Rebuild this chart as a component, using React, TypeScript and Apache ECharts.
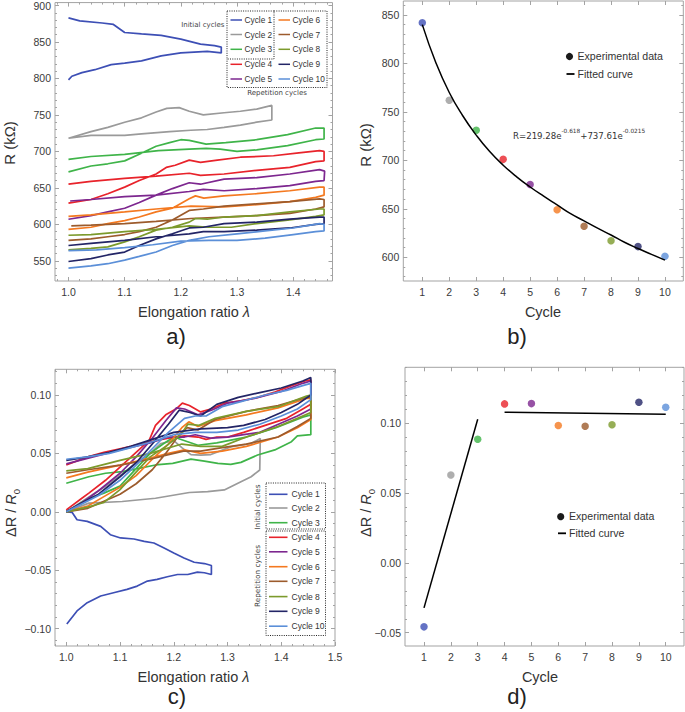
import React, { useEffect, useRef } from "react";
import * as echarts from "echarts";

// ---------- data ----------
const CYCLE_NAMES = ["Cycle 1", "Cycle 2", "Cycle 3", "Cycle 4", "Cycle 5", "Cycle 6", "Cycle 7", "Cycle 8", "Cycle 9", "Cycle 10"];
const CYCLE_COLORS = ["#3d4fb5", "#9a9a9a", "#3fb449", "#e8232b", "#7d278f", "#f47920", "#9c5b2c", "#7c9a2c", "#232566", "#5b8fd8"];
const CYCLES = [1, 2, 3, 4, 5, 6, 7, 8, 9, 10];

// Panel a) resistance loops [elongation ratio, R (kOhm)]
const A_CYCLE1 = [[1.0, 883], [1.02, 879], [1.06, 876], [1.08, 874], [1.1, 863], [1.13, 861], [1.165, 859], [1.2, 854], [1.235, 847], [1.26, 845], [1.272, 843], [1.272, 835], [1.247, 837], [1.2, 835], [1.165, 831], [1.13, 824], [1.1, 821], [1.076, 819], [1.047, 812], [1.024, 808], [1.006, 803], [1.0, 798]];
const A_CYCLE2 = [[1.0, 718], [1.04, 727], [1.07, 733], [1.1, 740], [1.13, 746], [1.156, 754], [1.175, 759], [1.197, 760], [1.215, 755], [1.24, 750], [1.277, 753], [1.306, 755], [1.335, 758], [1.362, 763], [1.362, 743], [1.335, 740], [1.306, 736], [1.277, 733], [1.247, 730], [1.218, 729], [1.18, 727], [1.13, 724], [1.1, 722], [1.04, 722], [1.0, 718]];
const A_CYCLE3 = [[1.0, 672], [1.04, 680], [1.07, 683], [1.1, 687], [1.126, 696], [1.156, 707], [1.18, 712], [1.2, 716], [1.215, 715], [1.245, 710], [1.28, 712], [1.335, 716], [1.39, 723], [1.44, 732], [1.455, 732], [1.455, 717], [1.44, 716], [1.39, 708], [1.335, 702], [1.3, 700], [1.27, 703], [1.245, 704], [1.215, 703], [1.16, 701], [1.1, 696], [1.04, 693], [1.0, 689]];
const A_CYCLE4 = [[1.0, 629], [1.04, 634], [1.07, 642], [1.1, 651], [1.126, 660], [1.156, 669], [1.174, 678], [1.19, 681], [1.215, 688], [1.235, 685], [1.265, 688], [1.306, 692], [1.365, 694], [1.41, 698], [1.447, 701], [1.455, 700], [1.455, 687], [1.44, 686], [1.394, 678], [1.335, 674], [1.277, 669], [1.235, 667], [1.215, 670], [1.156, 666], [1.1, 663], [1.04, 659], [1.0, 655]];
const A_CYCLE5 = [[1.0, 607], [1.04, 612], [1.07, 617], [1.1, 622], [1.126, 630], [1.156, 640], [1.185, 649], [1.215, 657], [1.235, 655], [1.277, 662], [1.335, 664], [1.394, 669], [1.447, 675], [1.456, 673], [1.455, 660], [1.44, 659], [1.394, 653], [1.335, 649], [1.277, 646], [1.24, 648], [1.215, 645], [1.156, 640], [1.1, 638], [1.04, 634], [1.003, 632]];
const A_CYCLE6 = [[1.0, 593], [1.04, 596], [1.07, 601], [1.1, 605], [1.126, 610], [1.156, 617], [1.185, 622], [1.215, 635], [1.226, 639], [1.241, 636], [1.277, 639], [1.335, 642], [1.394, 646], [1.447, 651], [1.455, 651], [1.455, 640], [1.44, 637], [1.394, 631], [1.335, 627], [1.277, 624], [1.218, 625], [1.156, 621], [1.1, 617], [1.04, 613], [1.0, 611]];
const A_CYCLE7 = [[1.0, 578], [1.04, 580], [1.07, 583], [1.1, 586], [1.126, 590], [1.156, 596], [1.185, 606], [1.215, 619], [1.24, 621], [1.277, 625], [1.335, 628], [1.394, 631], [1.447, 635], [1.455, 634], [1.455, 624], [1.44, 621], [1.394, 615], [1.335, 612], [1.277, 610], [1.218, 608], [1.156, 604], [1.1, 601], [1.04, 599], [1.005, 598]];
const A_CYCLE8 = [[1.0, 565], [1.04, 567], [1.07, 569], [1.1, 576], [1.126, 583], [1.156, 592], [1.185, 596], [1.215, 603], [1.226, 608], [1.247, 607], [1.277, 610], [1.335, 612], [1.394, 617], [1.447, 621], [1.455, 621], [1.455, 613], [1.44, 611], [1.394, 606], [1.335, 601], [1.29, 596], [1.25, 596], [1.215, 598], [1.156, 593], [1.1, 590], [1.04, 586], [1.0, 585]];
const A_CYCLE9 = [[1.0, 549], [1.04, 553], [1.07, 558], [1.1, 562], [1.126, 571], [1.156, 580], [1.185, 587], [1.215, 595], [1.24, 596], [1.277, 601], [1.335, 603], [1.394, 607], [1.447, 610], [1.455, 610], [1.455, 601], [1.44, 600], [1.394, 595], [1.335, 592], [1.277, 590], [1.24, 590], [1.215, 587], [1.156, 583], [1.1, 578], [1.04, 574], [1.0, 571]];
const A_CYCLE10 = [[1.0, 540], [1.04, 543], [1.07, 546], [1.1, 551], [1.126, 556], [1.156, 562], [1.185, 571], [1.215, 578], [1.25, 583], [1.3, 587], [1.35, 591], [1.4, 595], [1.447, 601], [1.455, 600], [1.455, 591], [1.44, 590], [1.4, 586], [1.35, 581], [1.3, 578], [1.25, 578], [1.2, 577], [1.15, 572], [1.1, 568], [1.05, 565], [1.0, 564]];

// Panel c) relative change loops [elongation ratio, dR/R0]
const C_CYCLE1 = [[1.0, 0], [1.011, -0.0006], [1.02, -0.0068], [1.039, -0.0082], [1.064, -0.0125], [1.082, -0.0196], [1.101, -0.0224], [1.126, -0.0233], [1.145, -0.0253], [1.163, -0.0267], [1.182, -0.031], [1.2, -0.0352], [1.219, -0.0395], [1.238, -0.0432], [1.257, -0.0443], [1.27, -0.046], [1.27, -0.0537], [1.257, -0.0522], [1.244, -0.0517], [1.226, -0.0537], [1.207, -0.0537], [1.188, -0.0556], [1.169, -0.0579], [1.151, -0.0593], [1.132, -0.0636], [1.113, -0.0664], [1.088, -0.0693], [1.064, -0.0721], [1.039, -0.0778], [1.02, -0.0849], [1.001, -0.096]];
const C_CYCLE2 = [[1.0, 0], [1.042, 0.0074], [1.104, 0.0088], [1.166, 0.0116], [1.229, 0.0165], [1.263, 0.0173], [1.294, 0.0187], [1.325, 0.0258], [1.344, 0.03], [1.36, 0.0358], [1.361, 0.0628], [1.344, 0.0585], [1.306, 0.0556], [1.269, 0.049], [1.25, 0.0485], [1.232, 0.049], [1.215, 0.055], [1.2, 0.061], [1.176, 0.0585], [1.156, 0.05], [1.13, 0.042], [1.1, 0.031], [1.07, 0.021], [1.04, 0.012], [1.0, 0]];
const C_CYCLE3 = [[1.0, 0], [1.04, 0.011], [1.07, 0.016], [1.1, 0.022], [1.126, 0.035], [1.156, 0.05], [1.18, 0.058], [1.2, 0.064], [1.245, 0.057], [1.28, 0.059], [1.335, 0.064], [1.39, 0.072], [1.44, 0.081], [1.455, 0.083], [1.455, 0.066], [1.43, 0.065], [1.419, 0.06], [1.388, 0.053], [1.356, 0.0486], [1.325, 0.0423], [1.306, 0.0406], [1.282, 0.0415], [1.257, 0.0434], [1.232, 0.0451], [1.198, 0.0415], [1.166, 0.0401], [1.135, 0.0372], [1.104, 0.0344], [1.073, 0.033], [1.042, 0.03], [1.0, 0.0244]];
const C_CYCLE4 = [[1.0, 0.0017], [1.029, 0.0116], [1.042, 0.016], [1.073, 0.027], [1.104, 0.04], [1.135, 0.053], [1.154, 0.061], [1.166, 0.074], [1.185, 0.083], [1.204, 0.088], [1.216, 0.093], [1.229, 0.091], [1.25, 0.0855], [1.269, 0.088], [1.294, 0.093], [1.325, 0.095], [1.356, 0.098], [1.388, 0.1025], [1.419, 0.108], [1.444, 0.112], [1.455, 0.113], [1.455, 0.092], [1.44, 0.088], [1.41, 0.08], [1.37, 0.074], [1.33, 0.068], [1.3, 0.064], [1.28, 0.064], [1.26, 0.062], [1.245, 0.064], [1.22, 0.065], [1.19, 0.063], [1.156, 0.06], [1.12, 0.056], [1.1, 0.054], [1.07, 0.051], [1.04, 0.047], [1.0, 0.04]];
const C_CYCLE5 = [[1.0, 0], [1.03, 0.008], [1.06, 0.018], [1.1, 0.033], [1.13, 0.047], [1.16, 0.063], [1.185, 0.078], [1.205, 0.089], [1.22, 0.088], [1.245, 0.083], [1.27, 0.087], [1.3, 0.093], [1.35, 0.097], [1.4, 0.103], [1.44, 0.11], [1.455, 0.112], [1.455, 0.088], [1.43, 0.082], [1.4, 0.076], [1.36, 0.068], [1.33, 0.066], [1.3, 0.064], [1.27, 0.063], [1.24, 0.066], [1.22, 0.064], [1.19, 0.064], [1.156, 0.059], [1.1, 0.053], [1.05, 0.047], [1.0, 0.041]];
const C_CYCLE6 = [[1.0, 0], [1.04, 0.005], [1.07, 0.013], [1.1, 0.021], [1.13, 0.031], [1.16, 0.045], [1.19, 0.058], [1.215, 0.072], [1.228, 0.077], [1.245, 0.073], [1.277, 0.078], [1.335, 0.083], [1.394, 0.089], [1.447, 0.097], [1.455, 0.097], [1.455, 0.079], [1.43, 0.072], [1.394, 0.064], [1.335, 0.056], [1.29, 0.052], [1.25, 0.05], [1.22, 0.053], [1.19, 0.05], [1.156, 0.046], [1.1, 0.04], [1.04, 0.034], [1.0, 0.029]];
const C_CYCLE7 = [[1.0, 0], [1.04, 0.003], [1.07, 0.009], [1.1, 0.015], [1.13, 0.024], [1.16, 0.036], [1.185, 0.05], [1.21, 0.066], [1.225, 0.072], [1.245, 0.07], [1.277, 0.079], [1.335, 0.086], [1.394, 0.091], [1.447, 0.098], [1.455, 0.098], [1.455, 0.08], [1.43, 0.073], [1.394, 0.064], [1.335, 0.058], [1.29, 0.055], [1.25, 0.052], [1.218, 0.052], [1.19, 0.049], [1.156, 0.045], [1.1, 0.04], [1.04, 0.036], [1.0, 0.033]];
const C_CYCLE8 = [[1.0, 0], [1.04, 0.004], [1.07, 0.008], [1.1, 0.019], [1.126, 0.032], [1.156, 0.047], [1.185, 0.056], [1.215, 0.067], [1.226, 0.075], [1.247, 0.074], [1.277, 0.08], [1.335, 0.086], [1.394, 0.09], [1.447, 0.099], [1.455, 0.1], [1.455, 0.085], [1.43, 0.08], [1.394, 0.073], [1.335, 0.064], [1.29, 0.056], [1.25, 0.056], [1.215, 0.058], [1.156, 0.05], [1.1, 0.044], [1.04, 0.037], [1.0, 0.035]];
const C_CYCLE9 = [[1.0, 0], [1.03, 0.008], [1.06, 0.015], [1.1, 0.03], [1.13, 0.042], [1.16, 0.058], [1.19, 0.075], [1.21, 0.087], [1.23, 0.085], [1.25, 0.082], [1.28, 0.092], [1.32, 0.098], [1.36, 0.102], [1.4, 0.106], [1.44, 0.112], [1.455, 0.115], [1.455, 0.1], [1.43, 0.092], [1.4, 0.085], [1.37, 0.079], [1.33, 0.074], [1.3, 0.072], [1.25, 0.071], [1.2, 0.068], [1.16, 0.062], [1.12, 0.056], [1.08, 0.051], [1.04, 0.047], [1.0, 0.044]];
const C_CYCLE10 = [[1.0, 0], [1.03, 0.007], [1.06, 0.014], [1.1, 0.027], [1.13, 0.04], [1.16, 0.054], [1.19, 0.068], [1.22, 0.08], [1.24, 0.082], [1.26, 0.082], [1.29, 0.09], [1.33, 0.095], [1.37, 0.1], [1.41, 0.104], [1.44, 0.108], [1.455, 0.11], [1.455, 0.096], [1.43, 0.088], [1.4, 0.082], [1.36, 0.075], [1.32, 0.07], [1.28, 0.068], [1.24, 0.068], [1.2, 0.066], [1.16, 0.06], [1.12, 0.055], [1.08, 0.05], [1.04, 0.047], [1.0, 0.045]];

// Panel b) resistance per cycle, and the fitted curve
const B_RESISTANCE = [842, 762, 731, 701, 675, 649, 632, 617, 611, 601];
const B_FIT_X = [1, 1.5, 2, 2.5, 3, 3.5, 4, 4.5, 5, 5.5, 6, 6.5, 7, 7.5, 8, 8.5, 9, 9.5, 10];
const B_FIT_Y = [840, 801, 770, 746, 726, 709, 695, 683, 672.5, 663, 654, 645, 637.5, 630, 623, 615.5, 609, 603, 597];

// Panel d) dR/R0 per cycle and fitted lines
const D_RATIO = [-0.0458, 0.063, 0.0886, 0.1139, 0.1141, 0.0984, 0.0979, 0.0989, 0.1151, 0.1115];
const D_FIT_INITIAL = [[1, -0.0322], [3, 0.1029]];
const D_FIT_REPETITION = [[4, 0.1079], [10, 0.1065]];

// tick labels
const LAMBDA_TICKS_A = [1.0, 1.1, 1.2, 1.3, 1.4];
const LAMBDA_TICKS_C = [1.0, 1.1, 1.2, 1.3, 1.4, 1.5];
const R_TICKS_A = [550, 600, 650, 700, 750, 800, 850, 900];
const R_TICKS_B = [600, 650, 700, 750, 800, 850];
const RATIO_TICKS_C = [-0.1, -0.05, 0, 0.05, 0.1];
const RATIO_TICKS_D = [-0.05, 0, 0.05, 0.1];
const CYCLE_TICKS = [1, 2, 3, 4, 5, 6, 7, 8, 9, 10];

const A_LOOPS = [A_CYCLE1, A_CYCLE2, A_CYCLE3, A_CYCLE4, A_CYCLE5, A_CYCLE6, A_CYCLE7, A_CYCLE8, A_CYCLE9, A_CYCLE10];
const C_LOOPS = [C_CYCLE1, C_CYCLE2, C_CYCLE3, C_CYCLE4, C_CYCLE5, C_CYCLE6, C_CYCLE7, C_CYCLE8, C_CYCLE9, C_CYCLE10];

// ---------- styling helpers ----------
const FRAME = "#a3a3a3";
const LABEL = "#3a3a3a";
const FONT = "'Liberation Sans', Arial, Helvetica, sans-serif";
const SMALLFONT = "'DejaVu Sans', sans-serif";

function steps(from: number, to: number, step: number) {
  const out: number[] = [];
  const n = Math.round((to - from) / step);
  for (let i = 0; i <= n; i++) out.push(Math.round((from + i * step) * 10000) / 10000);
  return out;
}

function axisSet(dim: "x" | "y", gridIndex: number, min: number, max: number, major: number[], minor: number[], fmt: (v: number) => string) {
  const pos = dim === "x" ? ["bottom", "top"] : ["left", "right"];
  const base = { type: "value", gridIndex, min, max, splitLine: { show: false }, axisLine: { show: false, onZero: false } };
  const tick = (vals: number[], len: number) => ({ show: true, inside: true, length: len, customValues: vals, lineStyle: { color: FRAME, width: 1 } });
  return [
    { ...base, position: pos[0], axisTick: tick(major, 4), axisLabel: { show: true, customValues: major, formatter: fmt, margin: dim === "x" ? 5 : 4, fontSize: 10.5, color: LABEL, fontFamily: FONT } },
    { ...base, position: pos[0], axisTick: tick(minor, 2), axisLabel: { show: false } },
    { ...base, position: pos[1], axisTick: tick(major, 4), axisLabel: { show: false } },
    { ...base, position: pos[1], axisTick: tick(minor, 2), axisLabel: { show: false } },
  ];
}

const fmt1 = (v: number) => v.toFixed(1);
const fmtInt = (v: number) => String(Math.round(v));
const fmt2 = (v: number) => (v < -1e-9 ? "\u2212" : "") + Math.abs(v).toFixed(2);

function text(x: number, y: number, t: string, size: number, extra: any = {}, family = FONT) {
  return { type: "text", x, y, z: 100, silent: true, style: { text: t, fontSize: size, fontFamily: family, fill: "#333", align: "left", verticalAlign: "middle", ...extra } };
}

function buildOption() {
  const grids = [
    { left: 55, top: 1, width: 277.5, height: 280 },
    { left: 403.3, top: 1, width: 280, height: 280 },
    { left: 55, top: 369.3, width: 280, height: 276.7 },
    { left: 405, top: 367.3, width: 279, height: 278.7 },
  ].map((g) => ({ ...g, show: true, borderColor: FRAME, borderWidth: 1, backgroundColor: "transparent" }));

  const xAxis = [
    ...axisSet("x", 0, 0.976, 1.47, LAMBDA_TICKS_A, steps(0.98, 1.46, 0.02), fmt1),
    ...axisSet("x", 1, 0.2955, 10.68, CYCLE_TICKS, CYCLE_TICKS, fmtInt),
    ...axisSet("x", 2, 0.979, 1.5, LAMBDA_TICKS_C, steps(0.98, 1.5, 0.02), fmt1),
    ...axisSet("x", 3, 0.293, 10.68, CYCLE_TICKS, CYCLE_TICKS, fmtInt),
  ];
  const yAxis = [
    ...axisSet("y", 0, 522.3, 904, R_TICKS_A, steps(530, 900, 10), fmtInt),
    ...axisSet("y", 1, 575.5, 864.4, R_TICKS_B, steps(580, 860, 10), fmtInt),
    ...axisSet("y", 2, -0.1149, 0.122, RATIO_TICKS_C, steps(-0.11, 0.12, 0.01), fmt2),
    ...axisSet("y", 3, -0.0595, 0.1401, RATIO_TICKS_D, steps(-0.05, 0.14, 0.01), fmt2),
  ];

  const series: any[] = [];
  A_LOOPS.forEach((loop, i) =>
    series.push({ type: "line", name: CYCLE_NAMES[i], xAxisIndex: 0, yAxisIndex: 0, data: loop, showSymbol: false, symbol: "none", lineStyle: { color: CYCLE_COLORS[i], width: 1.7 }, silent: true })
  );
  C_LOOPS.forEach((loop, i) =>
    series.push({ type: "line", name: CYCLE_NAMES[i], xAxisIndex: 8, yAxisIndex: 8, data: loop, showSymbol: false, symbol: "none", lineStyle: { color: CYCLE_COLORS[i], width: 1.7 }, silent: true })
  );
  series.push({ type: "line", xAxisIndex: 4, yAxisIndex: 4, data: B_FIT_X.map((x, i) => [x, B_FIT_Y[i]]), smooth: true, showSymbol: false, symbol: "none", lineStyle: { color: "#000", width: 1.5 }, silent: true, z: 3 });
  series.push({
    type: "scatter", xAxisIndex: 4, yAxisIndex: 4, symbolSize: 7.5, silent: true, z: 2,
    data: CYCLES.map((c, i) => ({ value: [c, B_RESISTANCE[i]], itemStyle: { color: CYCLE_COLORS[i] } })),
  });
  series.push({ type: "line", xAxisIndex: 12, yAxisIndex: 12, data: D_FIT_INITIAL, showSymbol: false, symbol: "none", lineStyle: { color: "#000", width: 1.5 }, silent: true, z: 3 });
  series.push({ type: "line", xAxisIndex: 12, yAxisIndex: 12, data: D_FIT_REPETITION, showSymbol: false, symbol: "none", lineStyle: { color: "#000", width: 1.5 }, silent: true, z: 3 });
  series.push({
    type: "scatter", xAxisIndex: 12, yAxisIndex: 12, symbolSize: 7.5, silent: true, z: 2,
    data: CYCLES.map((c, i) => ({ value: [c, D_RATIO[i]], itemStyle: { color: CYCLE_COLORS[i] } })),
  });

  const dotted = { stroke: "#222", lineWidth: 1, lineDash: [1, 1.3], fill: "none" };
  const g: any[] = [];

  // panel a legend
  const aRows = [20, 34.5, 49.3, 64.3, 79];
  CYCLE_NAMES.forEach((name, i) => {
    const col = i < 5 ? 0 : 1;
    const row = i % 5;
    const lx = col === 0 ? 230.5 : 278.5;
    g.push({ type: "line", z: 100, silent: true, shape: { x1: lx, y1: aRows[row], x2: lx + 11.5, y2: aRows[row] }, style: { stroke: CYCLE_COLORS[i], lineWidth: 1.5 } });
    g.push(text(lx + 14, aRows[row], name, 8.3));
  });
  g.push({ type: "rect", z: 100, silent: true, shape: { x: 227, y: 11, width: 47, height: 48 }, style: dotted });
  g.push({ type: "polyline", z: 100, silent: true, shape: { points: [[274, 11], [327, 11], [327, 87.5], [227, 87.5], [227, 59]] }, style: dotted });
  g.push(text(224.5, 25, "Initial cycles", 7, { align: "right", fill: "#444" }, SMALLFONT));
  g.push(text(277, 92.5, "Repetition cycles", 7, { align: "center", fill: "#444" }, SMALLFONT));

  // panel c legend
  const cRows = [494.3, 508, 522.7, 537.3, 551.8, 566.7, 581.3, 596.6, 611.3, 626.2];
  CYCLE_NAMES.forEach((name, i) => {
    g.push({ type: "line", z: 100, silent: true, shape: { x1: 269, y1: cRows[i], x2: 287.5, y2: cRows[i] }, style: { stroke: CYCLE_COLORS[i], lineWidth: 1.6 } });
    g.push(text(291.5, cRows[i], name, 8.5));
  });
  g.push({ type: "rect", z: 100, silent: true, shape: { x: 266, y: 483, width: 59.5, height: 46 }, style: dotted });
  g.push({ type: "rect", z: 100, silent: true, shape: { x: 266, y: 531, width: 59.5, height: 104.5 }, style: dotted });
  g.push({ ...text(257, 507, "Initial cycles", 7.3, { align: "center", fill: "#444" }, SMALLFONT), rotation: Math.PI / 2 });
  g.push({ ...text(257, 576, "Repetition cycles", 7.3, { align: "center", fill: "#444" }, SMALLFONT), rotation: Math.PI / 2 });

  // panel b legend and equation
  g.push({ type: "circle", z: 100, silent: true, shape: { cx: 569.5, cy: 56.5, r: 3.6 }, style: { fill: "#1a1a1a" } });
  g.push(text(577.5, 55.5, "Experimental data", 10.6));
  g.push({ type: "line", z: 100, silent: true, shape: { x1: 566.5, y1: 74, x2: 574.5, y2: 74 }, style: { stroke: "#000", lineWidth: 1.8 } });
  g.push(text(577.5, 74, "Fitted curve", 10.6));
  g.push({
    type: "text", x: 513, y: 134, z: 100, silent: true,
    style: {
      text: "{m|R=219.28e}{s|-0.618}{m|+737.61e}{s|-0.0215}",
      align: "left", verticalAlign: "middle",
      rich: {
        m: { fontSize: 8.6, fontFamily: SMALLFONT, fill: "#333", lineHeight: 13, verticalAlign: "bottom" },
        s: { fontSize: 5.8, fontFamily: SMALLFONT, fill: "#333", lineHeight: 7, verticalAlign: "top" },
      },
    },
  });

  // panel d legend
  g.push({ type: "circle", z: 100, silent: true, shape: { cx: 560.7, cy: 516.7, r: 3.6 }, style: { fill: "#1a1a1a" } });
  g.push(text(569, 515.5, "Experimental data", 10.6));
  g.push({ type: "line", z: 100, silent: true, shape: { x1: 558, y1: 533.3, x2: 566, y2: 533.3 }, style: { stroke: "#000", lineWidth: 1.8 } });
  g.push(text(569, 533.3, "Fitted curve", 10.6));

  // axis titles
  const rot = Math.PI / 2;
  g.push({ ...text(9, 143, "R (k\u03A9)", 15, { align: "center" }), rotation: rot });
  g.push({ ...text(365, 145, "R (k\u03A9)", 15, { align: "center" }), rotation: rot });
  const lamRich = {
    text: "{n|Elongation ratio }{i|\u03BB}",
    rich: { n: { fontSize: 14.5, fontFamily: FONT, fill: "#333" }, i: { fontSize: 14.5, fontFamily: FONT, fontStyle: "italic", fill: "#333" } },
  };
  g.push({ type: "text", x: 194, y: 312, z: 100, silent: true, style: { ...lamRich, align: "center", verticalAlign: "middle" } });
  g.push({ type: "text", x: 193.5, y: 677, z: 100, silent: true, style: { ...lamRich, align: "center", verticalAlign: "middle" } });
  g.push(text(543, 312, "Cycle", 14.5, { align: "center" }));
  g.push(text(540, 677, "Cycle", 14.5, { align: "center" }));
  const ratioRich = {
    text: "{n|\u0394R / }{i|R}{s|0}",
    rich: {
      n: { fontSize: 14.5, fontFamily: FONT, fill: "#333", lineHeight: 20, verticalAlign: "middle" },
      i: { fontSize: 14.5, fontFamily: FONT, fontStyle: "italic", fill: "#333", lineHeight: 20, verticalAlign: "middle" },
      s: { fontSize: 9.5, fontFamily: FONT, fill: "#333", lineHeight: 10, verticalAlign: "bottom" },
    },
  };
  g.push({ type: "text", x: 11, y: 513, z: 100, silent: true, rotation: rot, style: { ...ratioRich, align: "center", verticalAlign: "middle" } });
  g.push({ type: "text", x: 366, y: 513, z: 100, silent: true, rotation: rot, style: { ...ratioRich, align: "center", verticalAlign: "middle" } });

  // panel letters
  g.push(text(176, 336, "a)", 22, { align: "center", fill: "#222" }));
  g.push(text(517, 336, "b)", 22, { align: "center", fill: "#222" }));
  g.push(text(177, 696, "c)", 22, { align: "center", fill: "#222" }));
  g.push(text(517, 696, "d)", 22, { align: "center", fill: "#222" }));

  return { animation: false, backgroundColor: "#ffffff", grid: grids, xAxis, yAxis, series, graphic: g };
}

export default function App() {
  const ref = useRef<HTMLDivElement>(null);
  useEffect(() => {
    if (!ref.current) return;
    const chart = echarts.init(ref.current, undefined, { renderer: "svg" });
    chart.setOption(buildOption() as any);
    return () => chart.dispose();
  }, []);
  return <div ref={ref} style={{ width: 685, height: 712, position: "absolute", left: 0, top: 0 }} />;
}
